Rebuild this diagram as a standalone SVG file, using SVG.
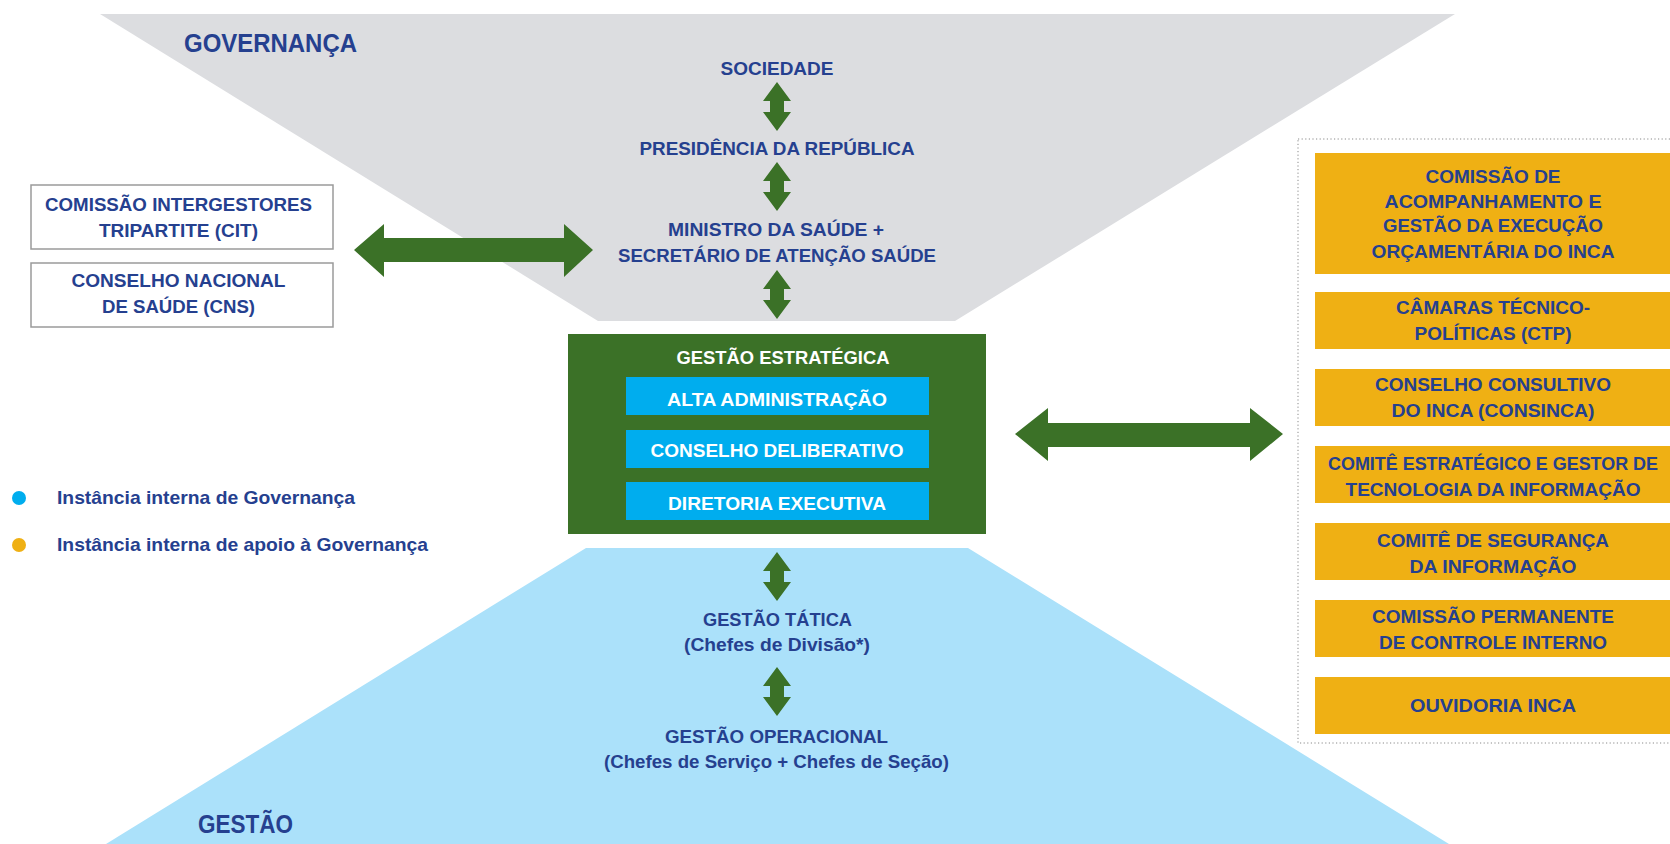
<svg xmlns="http://www.w3.org/2000/svg" width="1670" height="844" viewBox="0 0 1670 844">
<style>
.t{font-family:"Liberation Sans",Arial,sans-serif;font-weight:bold;fill:#25408f;text-anchor:middle;font-size:19px}
.s{text-anchor:start}
.big{font-size:26px}
.sm{font-size:18px}
.w{fill:#ffffff}
.org{fill:#efb014}
.cy{fill:#00adee}
.arr{fill:#3b7127}
.lb{fill:#ffffff;stroke:#9a9a9a;stroke-width:1.5}
</style>
<defs>
<path id="va" d="M0,0 L14,19 L7,19 L7,30 L14,30 L0,49 L-14,30 L-7,30 L-7,19 L-14,19 Z"/>
</defs>
<rect width="1670" height="844" fill="#ffffff"/>

<g id="governanca">
<polygon points="100,14 1455,14 955,321 598,321" fill="#dcdde0"/>
<text class="t s big" x="184" y="52" textLength="173" lengthAdjust="spacingAndGlyphs">GOVERNANÇA</text>
</g>

<g id="gestao">
<polygon points="586,548 968,548 1449,844 106,844" fill="#abe1fa"/>
<text class="t s big" x="198" y="833" textLength="95" lengthAdjust="spacingAndGlyphs">GESTÃO</text>
</g>

<g id="sociedade">
<text class="t" x="777" y="75" textLength="113" lengthAdjust="spacingAndGlyphs">SOCIEDADE</text>
</g>
<g id="presidencia">
<text class="t" x="777" y="155" textLength="275" lengthAdjust="spacingAndGlyphs">PRESIDÊNCIA DA REPÚBLICA</text>
</g>
<g id="ministro">
<text class="t" x="776" y="236" textLength="216" lengthAdjust="spacingAndGlyphs">MINISTRO DA SAÚDE +</text>
<text class="t" x="777" y="262" textLength="318" lengthAdjust="spacingAndGlyphs">SECRETÁRIO DE ATENÇÃO SAÚDE</text>
</g>

<g id="cit">
<rect class="lb" x="31" y="185" width="302" height="64"/>
<text class="t" x="178.5" y="211" textLength="267" lengthAdjust="spacingAndGlyphs">COMISSÃO INTERGESTORES</text>
<text class="t" x="178.5" y="237" textLength="159" lengthAdjust="spacingAndGlyphs">TRIPARTITE (CIT)</text>
</g>
<g id="cns">
<rect class="lb" x="31" y="263" width="302" height="64"/>
<text class="t" x="178.5" y="287" textLength="214" lengthAdjust="spacingAndGlyphs">CONSELHO NACIONAL</text>
<text class="t" x="178.5" y="313" textLength="153" lengthAdjust="spacingAndGlyphs">DE SAÚDE (CNS)</text>
</g>

<g id="gestao-estrategica">
<rect x="568" y="334" width="418" height="200" fill="#3b7127"/>
<text class="t w" x="783" y="364" textLength="213" lengthAdjust="spacingAndGlyphs">GESTÃO ESTRATÉGICA</text>
<g id="alta-administracao">
<rect class="cy" x="626" y="377" width="303" height="38"/>
<text class="t w" x="777" y="406" textLength="220" lengthAdjust="spacingAndGlyphs">ALTA ADMINISTRAÇÃO</text>
</g>
<g id="conselho-deliberativo">
<rect class="cy" x="626" y="430" width="303" height="38"/>
<text class="t w" x="777" y="457" textLength="253" lengthAdjust="spacingAndGlyphs">CONSELHO DELIBERATIVO</text>
</g>
<g id="diretoria-executiva">
<rect class="cy" x="626" y="482" width="303" height="38"/>
<text class="t w" x="777" y="510" textLength="218" lengthAdjust="spacingAndGlyphs">DIRETORIA EXECUTIVA</text>
</g>
</g>

<g id="gestao-tatica">
<text class="t" x="777.5" y="626" textLength="149" lengthAdjust="spacingAndGlyphs">GESTÃO TÁTICA</text>
<text class="t" x="777" y="651" textLength="186" lengthAdjust="spacingAndGlyphs">(Chefes de Divisão*)</text>
</g>
<g id="gestao-operacional">
<text class="t" x="776.5" y="743" textLength="223" lengthAdjust="spacingAndGlyphs">GESTÃO OPERACIONAL</text>
<text class="t" x="776.5" y="768" textLength="345" lengthAdjust="spacingAndGlyphs">(Chefes de Serviço + Chefes de Seção)</text>
</g>

<g id="apoio">
<rect x="1298" y="139" width="380" height="604" fill="none" stroke="#8a8a8a" stroke-width="1" stroke-dasharray="1.2,2.4"/>
<g id="comissao-orcamentaria">
<rect class="org" x="1315" y="153" width="355" height="121"/>
<text class="t" x="1493" y="183" textLength="135" lengthAdjust="spacingAndGlyphs">COMISSÃO DE</text>
<text class="t" x="1493" y="208" textLength="217" lengthAdjust="spacingAndGlyphs">ACOMPANHAMENTO E</text>
<text class="t" x="1493" y="232" textLength="220" lengthAdjust="spacingAndGlyphs">GESTÃO DA EXECUÇÃO</text>
<text class="t" x="1493" y="258" textLength="243" lengthAdjust="spacingAndGlyphs">ORÇAMENTÁRIA DO INCA</text>
</g>
<g id="camaras">
<rect class="org" x="1315" y="292" width="355" height="57"/>
<text class="t" x="1493" y="314" textLength="194" lengthAdjust="spacingAndGlyphs">CÂMARAS TÉCNICO-</text>
<text class="t" x="1493" y="340" textLength="157" lengthAdjust="spacingAndGlyphs">POLÍTICAS (CTP)</text>
</g>
<g id="consinca">
<rect class="org" x="1315" y="369" width="355" height="57"/>
<text class="t" x="1493" y="391" textLength="236" lengthAdjust="spacingAndGlyphs">CONSELHO CONSULTIVO</text>
<text class="t" x="1493" y="417" textLength="203" lengthAdjust="spacingAndGlyphs">DO INCA (CONSINCA)</text>
</g>
<g id="comite-ti">
<rect class="org" x="1315" y="446" width="355" height="57"/>
<text class="t sm" x="1493" y="470" textLength="330" lengthAdjust="spacingAndGlyphs">COMITÊ ESTRATÉGICO E GESTOR DE</text>
<text class="t" x="1493" y="496" textLength="295" lengthAdjust="spacingAndGlyphs">TECNOLOGIA DA INFORMAÇÃO</text>
</g>
<g id="comite-seguranca">
<rect class="org" x="1315" y="523" width="355" height="57"/>
<text class="t" x="1493" y="547" textLength="232" lengthAdjust="spacingAndGlyphs">COMITÊ DE SEGURANÇA</text>
<text class="t" x="1493" y="573" textLength="167" lengthAdjust="spacingAndGlyphs">DA INFORMAÇÃO</text>
</g>
<g id="controle-interno">
<rect class="org" x="1315" y="600" width="355" height="57"/>
<text class="t" x="1493" y="623" textLength="242" lengthAdjust="spacingAndGlyphs">COMISSÃO PERMANENTE</text>
<text class="t" x="1493" y="649" textLength="228" lengthAdjust="spacingAndGlyphs">DE CONTROLE INTERNO</text>
</g>
<g id="ouvidoria">
<rect class="org" x="1315" y="677" width="355" height="57"/>
<text class="t" x="1493" y="712" textLength="166" lengthAdjust="spacingAndGlyphs">OUVIDORIA INCA</text>
</g>
</g>

<g id="legenda">
<circle cx="19" cy="498" r="7" class="cy"/>
<text class="t s" x="57" y="504" textLength="298" lengthAdjust="spacingAndGlyphs">Instância interna de Governança</text>
<circle cx="19" cy="545" r="7" class="org"/>
<text class="t s" x="57" y="551" textLength="371" lengthAdjust="spacingAndGlyphs">Instância interna de apoio à Governança</text>
</g>

<g id="connectors" class="arr">
<use href="#va" transform="translate(777,82)"/>
<use href="#va" transform="translate(777,162)"/>
<use href="#va" transform="translate(777,270)"/>
<use href="#va" transform="translate(777,552)"/>
<use href="#va" transform="translate(777,667)"/>
<path d="M354,250 L384,224 L384,238 L564,238 L564,224 L593,250 L564,277 L564,262 L384,262 L384,277 Z"/>
<path d="M1015,434 L1048,408 L1048,423 L1250,423 L1250,408 L1283,434 L1250,461 L1250,447 L1048,447 L1048,461 Z"/>
</g>
</svg>
